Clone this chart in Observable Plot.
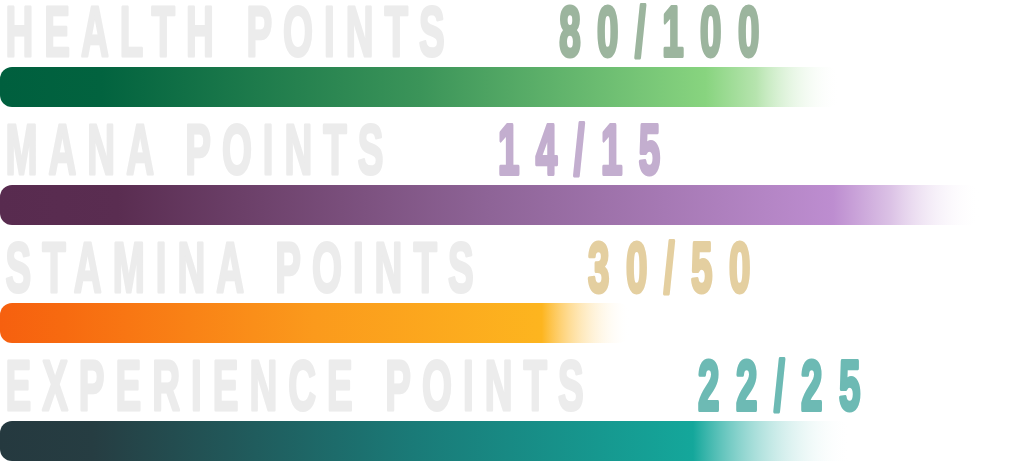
<!DOCTYPE html>
<html>
<head>
<meta charset="utf-8">
<script src="https://cdn.jsdelivr.net/npm/d3@7"></script>
<script src="https://cdn.jsdelivr.net/npm/@observablehq/plot@0.6"></script>
<style>
  body { margin: 0; background: #fff; }
</style>
</head>
<body>
<div id="chart"></div>
<script>
// valeurs
const stats = ["HEALTH POINTS", "MANA POINTS", "STAMINA POINTS", "EXPERIENCE POINTS"]
const current = [80, 14, 30, 22]
const maximum = [100, 15, 50, 25]

// couleurs (texte de valeur + dégradé de chaque barre)
const valueColors = ["#9cb59e", "#c3aecf", "#e4cfa0", "#6dbab4"]
const gradients = [
  [[0, "#005f3e"], [0.12, "#02633f"], [0.5, "#3b9459"], [0.84, "#88d47f"], [0.9, "#b6e4ae"], [1, "#ffffff", 0]],
  [[0, "#582b4f"], [0.12, "#5a2d51"], [0.5, "#8e6497"], [0.85, "#bd8dd0"], [0.91, "#dcc3e6"], [1, "#ffffff", 0]],
  [[0, "#f6600f"], [0.1, "#f76a10"], [0.5, "#fb9a1c"], [0.86, "#fdb51f"], [1, "#ffffff", 0]],
  [[0, "#25393f"], [0.1, "#263d42"], [0.45, "#1a7b78"], [0.75, "#14a79b"], [0.92, "#ffffff", 0]]
]

const rows = stats.map((stat, i) => ({stat, current: current[i], max: maximum[i]}))

const chart = Plot.plot({
  width: 1015,
  height: 462,
  margin: 0,
  x: {domain: [0, 1], range: [0, 1050], axis: null},
  y: {domain: stats, range: [66, 461], paddingInner: 0.662, paddingOuter: 0, axis: null},
  marks: [
    ...rows.map((d, i) => Plot.barX([d], {
      x: d => d.current / d.max,
      y: "stat",
      fill: `url(#grad-${i})`,
      rx: 12
    })),
    Plot.text(rows, {
      y: "stat",
      text: "stat",
      frameAnchor: "left",
      textAnchor: "start",
      lineAnchor: "bottom",
      dx: 5,
      dy: -32,
      fill: "#ececec",
      stroke: "#ececec",
      strokeWidth: 3,
      fontFamily: "Liberation Sans, Arial, sans-serif",
      fontWeight: "bold",
      fontSize: 70
    })
  ]
})

const svg = d3.select(chart)
const defs = svg.insert("defs", ":first-child")
gradients.forEach((stops, i) => {
  const g = defs.append("linearGradient").attr("id", `grad-${i}`)
  stops.forEach(([o, c, a]) => g.append("stop")
    .attr("offset", o).attr("stop-color", c).attr("stop-opacity", a ?? 1))
})

// texte condensé + valeur colorée à la suite du libellé
svg.selectAll("g[aria-label='text'] text").each(function (_, k) {
  const t = d3.select(this)
  t.attr("transform", t.attr("transform") + " scale(0.55,1)")
   .attr("letter-spacing", 20)
  t.append("tspan")
    .attr("dx", 188)
    .attr("letter-spacing", 30)
    .attr("stroke-width", 4)
    .attr("fill", valueColors[k])
    .attr("stroke", valueColors[k])
    .text(`${rows[k].current}/${rows[k].max}`)
})

d3.select('#chart').append(() => chart)
</script>
</body>
</html>
